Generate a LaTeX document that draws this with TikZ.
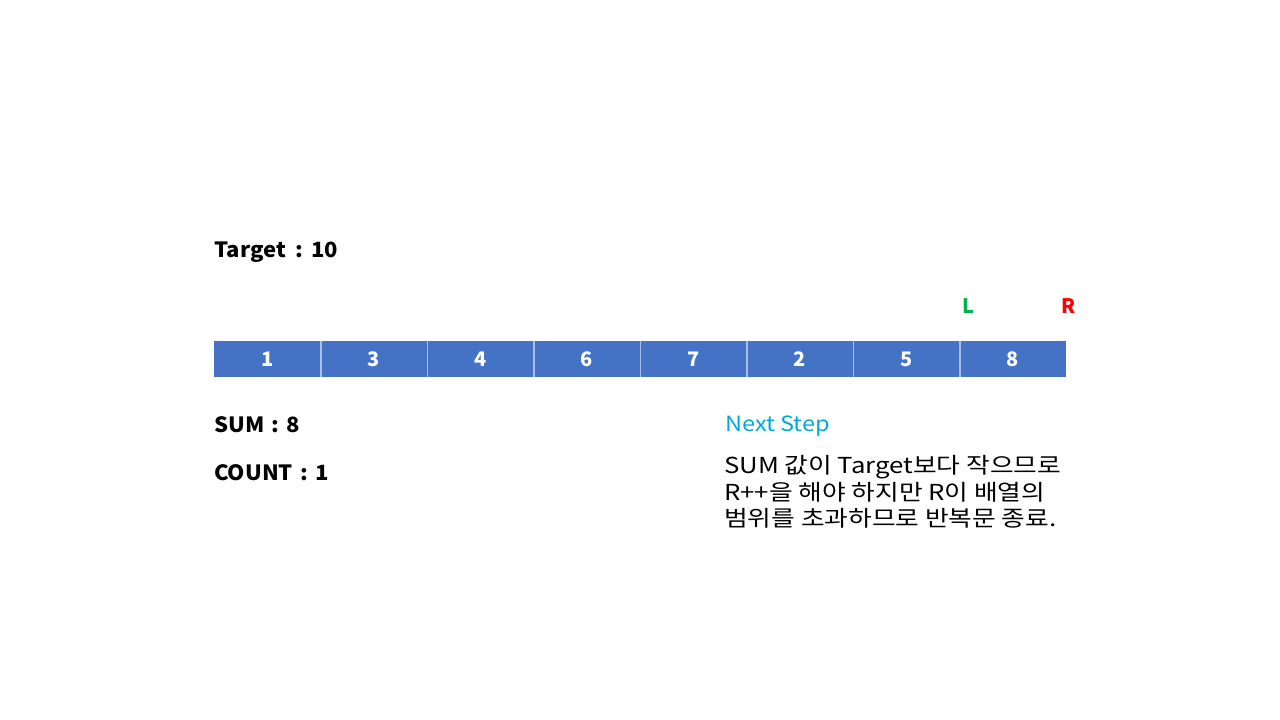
\documentclass[tikz,border=0pt]{standalone}
\usepackage{fontspec}
\setmainfont{Noto Sans CJK KR}
\definecolor{cellblue}{HTML}{4472C4}
\definecolor{sepblue}{HTML}{A9BFE6}
\definecolor{lgreen}{HTML}{00B050}
\definecolor{lred}{HTML}{FF0000}
\definecolor{nextblue}{HTML}{00A8E0}
\newcommand{\widen}[2]{\scalebox{#1}[1]{#2}}
\begin{document}
\begin{tikzpicture}[x=1pt,y=-1pt,
  cell/.style={fill=cellblue,draw=none,minimum width=106.5pt,minimum height=36pt,inner sep=0pt,
    text=white,font=\fontsize{20}{24}\selectfont\bfseries,anchor=west},
  lbl/.style={anchor=west,inner sep=0pt,font=\fontsize{21}{25}\selectfont\bfseries},
  ptr/.style={inner sep=0pt,font=\fontsize{20}{24}\selectfont\bfseries},
  sep/.style={draw=sepblue,line width=1.2pt}]
\useasboundingbox (0,0) rectangle (1280,720);
\fill[white] (0,0) rectangle (1280,720);
\node[lbl] (target) at (214,252) {\widen{1.05}{Target\hspace{9pt}:\hspace{8pt}10}};
\node[ptr,text=lgreen] (L) at (968,306) {L};
\node[ptr,text=lred] (R) at (1069,306) {R};
\foreach \v [count=\i] in {1,3,4,6,7,2,5,8}{
  \node[cell] (c\i) at ({214+(\i-1)*106.5},359) {\v};
}
\foreach \i in {1,...,7}{
  \draw[sep] (c\i.north east) -- (c\i.south east);
}
\node[lbl] (sum) at (214,425) {\widen{1.05}{SUM\hspace{7pt}:\hspace{7pt}8}};
\node[lbl] (count) at (214,473) {\widen{1.05}{COUNT\hspace{7pt}:\hspace{7pt}1}};
\node[anchor=west,inner sep=0pt,text=nextblue,font=\fontsize{21}{25}\selectfont] (next) at (725,426) {\widen{1.12}{Next Step}};
\node[anchor=north west,inner sep=0pt,align=left,font=\fontsize{22}{26.7}\selectfont] (para) at (724,455)
  {\widen{1.17}{SUM 값이 Target보다 작으므로}\\\widen{1.17}{R++을 해야 하지만 R이 배열의}\\\widen{1.17}{범위를 초과하므로 반복문 종료.}};
\end{tikzpicture}
\end{document}
